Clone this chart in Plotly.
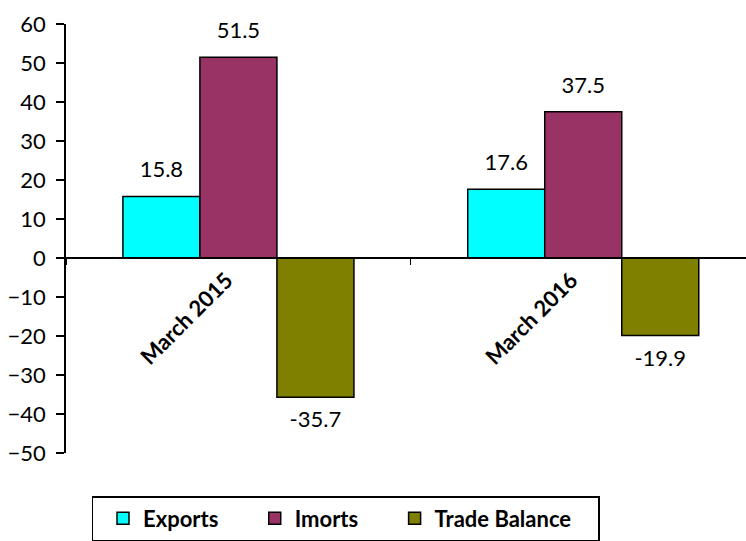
import plotly.graph_objects as go

categories = ["March 2015", "March 2016"]
exports = [15.8, 17.6]
imports = [51.5, 37.5]
trade_balance = [-35.7, -19.9]
series_names = ["Exports", "Imorts", "Trade Balance"]
series_colors = ["#00FFFF", "#993366", "#808000"]
y_ticks = [60, 50, 40, 30, 20, 10, 0, -10, -20, -30, -40, -50]

NB = "\u00a0"
legend_pad = [4, 4, 4]  # trailing non-breaking spaces to space legend entries

FONT = "Lato"
fig = go.Figure()
for i, (name, vals, col) in enumerate(zip(series_names, [exports, imports, trade_balance], series_colors)):
    fig.add_trace(go.Bar(
        x=categories, y=vals, name=name + NB * legend_pad[i], offsetgroup=str(i),
        marker=dict(color=col, line=dict(color="black", width=1.5)),
        hoverinfo="skip",
    ))
for i, vals in enumerate([exports, imports, trade_balance]):
    fig.add_trace(go.Scatter(
        x=categories, y=vals, mode="markers+text", offsetgroup=str(i),
        marker=dict(size=20, opacity=0),
        text=[f"{v}" for v in vals],
        textposition=["top center" if v >= 0 else "bottom center" for v in vals],
        textfont=dict(family=FONT, size=22, color="black"),
        showlegend=False, hoverinfo="skip", cliponaxis=False,
    ))

y_min, y_max = -50, 60
zero_pos = (0 - y_min) / (y_max - y_min)

fig.update_layout(
    width=746, height=541,
    margin=dict(l=66, r=0, t=24, b=87),
    paper_bgcolor="white", plot_bgcolor="rgba(0,0,0,0)",
    barmode="group", bargap=0.33, bargroupgap=0,
    scattermode="group", scattergap=0.33,
    showlegend=True,
    legend=dict(
        orientation="h", x=0.0375, y=-0.1, xanchor="left", yanchor="top",
        bordercolor="black", borderwidth=1.5, indentation=10,
        font=dict(family=FONT, size=22, color="black", weight="bold"),
    ),
    xaxis=dict(
        range=[-0.5, 1.472], anchor="free", position=zero_pos,
        showline=True, linecolor="black", linewidth=1.5,
        ticks="outside", tickson="boundaries", ticklen=6, tickcolor="black",
        tickangle=-45, ticklabelshift=-12,
        tickfont=dict(family=FONT, size=22, color="black", weight="bold"),
        showgrid=False, zeroline=False,
    ),
    yaxis=dict(
        range=[y_min, y_max], tickvals=y_ticks,
        showline=True, linecolor="black", linewidth=1.5,
        ticks="outside", ticklen=8, tickcolor="black", tickwidth=1.5,
        tickfont=dict(family=FONT, size=22, color="black"),
        ticklabelstandoff=6,
        showgrid=False, zeroline=False,
    ),
)

fig.write_html("out.html")
